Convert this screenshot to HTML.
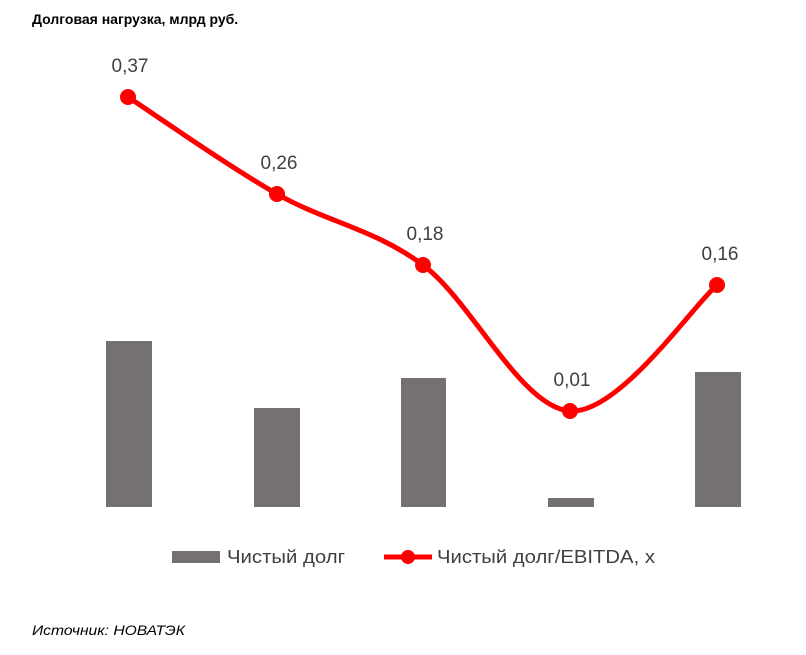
<!DOCTYPE html>
<html><head><meta charset="utf-8"><style>
html,body{margin:0;padding:0;background:#fff;width:806px;height:655px;overflow:hidden}
svg{display:block}
</style></head><body>
<svg width="806" height="655" xmlns="http://www.w3.org/2000/svg" font-family="Liberation Sans, DejaVu Sans, sans-serif">
<text x="32" y="24" font-size="14" font-weight="bold" fill="#000">Долговая нагрузка, млрд руб.</text>
<g fill="#767171">
<rect x="106" y="341" width="46" height="166"/>
<rect x="254" y="408" width="46" height="99"/>
<rect x="401" y="378" width="45" height="129"/>
<rect x="548" y="498" width="46" height="9"/>
<rect x="695" y="372" width="46" height="135"/>
</g>
<path d="M128,97 C152.8,113.2 227.8,166 277,194 C326.2,222 374.2,228.8 423,265 C471.8,301.2 521,407.7 570,411 C619,414.3 692.5,306 717,285" fill="none" stroke="#ff0000" stroke-width="5" stroke-linecap="round"/>
<g fill="#ff0000">
<circle cx="128" cy="97" r="8"/><circle cx="277" cy="194" r="8"/><circle cx="423" cy="265" r="8"/><circle cx="570" cy="411" r="8"/><circle cx="717" cy="285" r="8"/>
</g>
<g font-size="19" fill="#404040" text-anchor="middle">
<text x="130" y="72">0,37</text>
<text x="279" y="169">0,26</text>
<text x="425" y="240">0,18</text>
<text x="572" y="386">0,01</text>
<text x="720" y="260">0,16</text>
</g>
<rect x="172" y="551" width="48" height="12" fill="#767171"/>
<text x="227" y="563" font-size="18" fill="#404040" textLength="118" lengthAdjust="spacingAndGlyphs">Чистый долг</text>
<line x1="384" y1="557" x2="432" y2="557" stroke="#ff0000" stroke-width="5"/>
<circle cx="408" cy="557" r="7" fill="#ff0000"/>
<text x="437" y="563" font-size="18" fill="#404040" textLength="218" lengthAdjust="spacingAndGlyphs">Чистый долг/EBITDA, x</text>
<text x="32" y="635" font-size="14" font-style="italic" fill="#000" textLength="153" lengthAdjust="spacingAndGlyphs">Источник: НОВАТЭК</text>
</svg>
</body></html>
